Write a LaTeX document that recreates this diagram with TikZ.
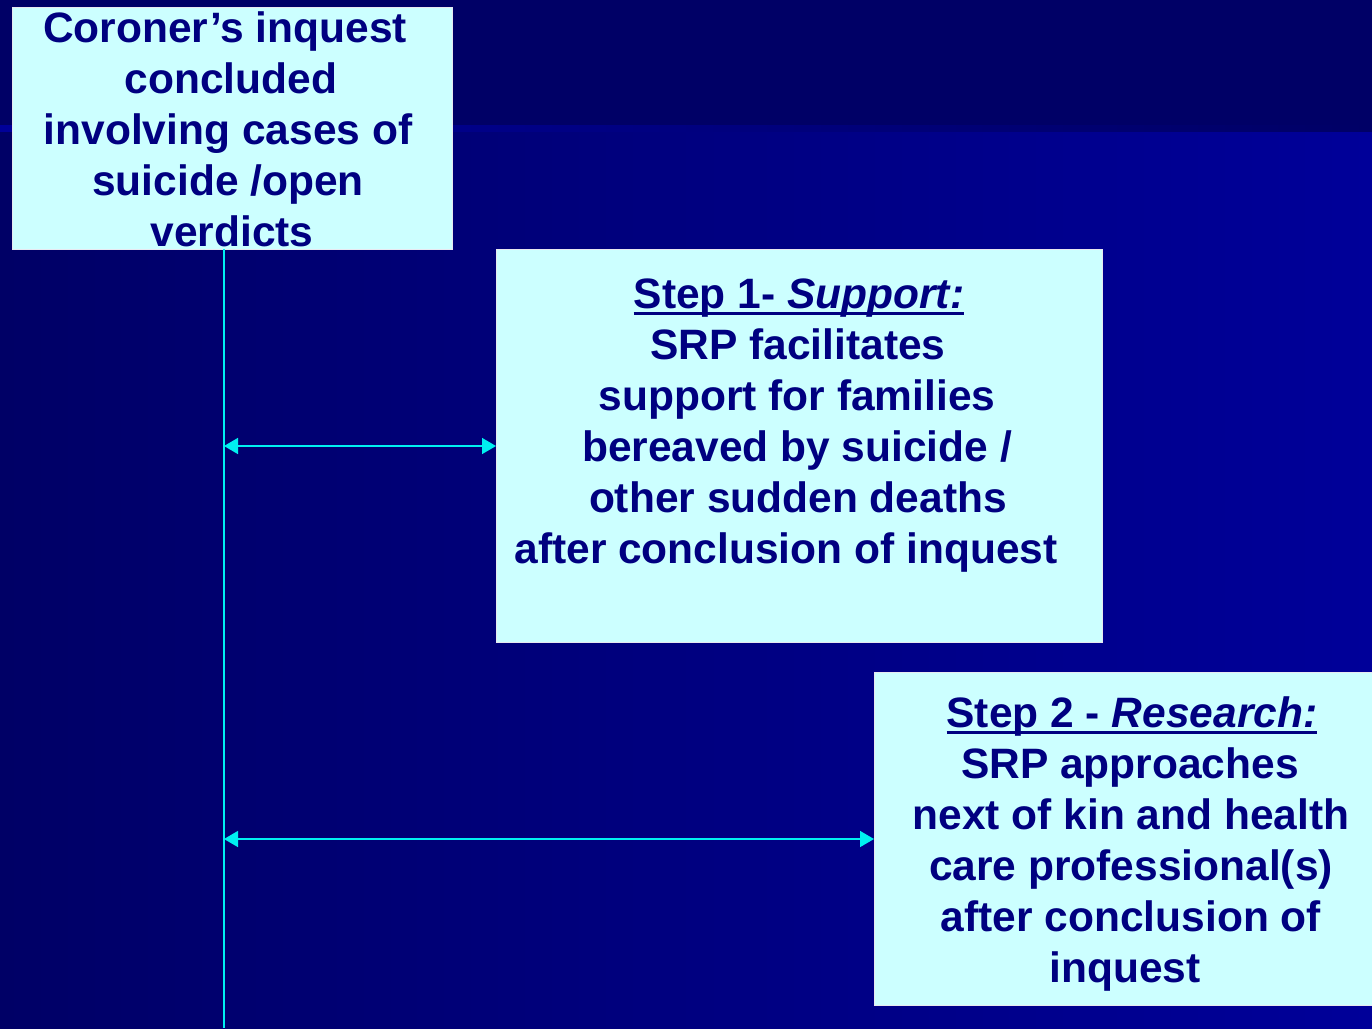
\documentclass[tikz,border=0pt]{standalone}
\usepackage{fontspec}
\setmainfont{Liberation Sans}
\usetikzlibrary{arrows.meta}
\definecolor{bgtop}{HTML}{000066}
\definecolor{bgright}{HTML}{000099}
\definecolor{boxfill}{HTML}{CCFFFF}
\definecolor{txtcol}{HTML}{000080}
\definecolor{arrcol}{HTML}{00F0F0}
\definecolor{boxline}{HTML}{E8E8F0}
\newsavebox\ulsave
\newcommand\myul[1]{\sbox\ulsave{#1}\rlap{\rule[-7pt]{\wd\ulsave}{3pt}}\usebox\ulsave}
\newcommand\pre[1]{\hspace*{#1pt}}
\begin{document}
\begin{tikzpicture}[x=1pt,y=-1pt,
  boxstyle/.style={draw=boxline, line width=1pt, fill=boxfill, inner sep=0pt, anchor=north west},
  txtstyle/.style={text=txtcol, font=\fontsize{42.5}{51}\selectfont\bfseries, align=center, inner sep=0pt, anchor=north},
  conn/.style={draw=arrcol, line width=1.6pt},
  dbl/.style={conn, {Triangle[length=14pt,width=16pt]}-{Triangle[length=14pt,width=16pt]}}]
\useasboundingbox (0,0) rectangle (1372,1028);
\fill[bgtop] (0,0) rectangle (1372,1028);
\shade[left color=bgtop, right color=bgright] (0,130) rectangle (1372,1028);
\shade[left color=bgright, right color=bgtop] (0,125) rectangle (1372,131);

\node[boxstyle, minimum width=440pt, minimum height=242pt] (b1) at (12,7) {};
\node[boxstyle, minimum width=606pt, minimum height=393pt] (b2) at (496,249) {};
\node[boxstyle, minimum width=512pt, minimum height=333pt] (b3) at (874,672) {};

\node[txtstyle] (t1) at (228,7) {\rule{0pt}{35pt}Coroner’s inquest\pre{6}\\\pre{6}concluded\\involving cases of\pre{7}\\suicide /open\pre{6}\\\pre{8}verdicts};
\node[txtstyle] (t2) at (797,273) {\rule{0pt}{35pt}\pre{4}\myul{Step 1- \textit{Support:}}\\\pre{2}SRP facilitates\\support for families\pre{10}\\bereaved by suicide /\pre{8}\\\pre{2}other sudden deaths\\after conclusion of inquest\pre{22}};
\node[txtstyle] (t3) at (1130,692) {\rule{0pt}{35pt}\pre{4}\myul{Step 2 - \textit{Research:}}\\SRP approaches\pre{10}\\\pre{2}next of kin and health\\\pre{2}care professional(s)\\\pre{2}after conclusion of\\inquest\pre{10}};

\coordinate (vtop) at (224,249);
\coordinate (vbot) at (224,1028);
\draw[conn] (vtop) -- (vbot);
\draw[dbl] (vtop |- b2.west) -- (b2.west);
\draw[dbl] (vtop |- b3.west) -- (b3.west);
\end{tikzpicture}
\end{document}
